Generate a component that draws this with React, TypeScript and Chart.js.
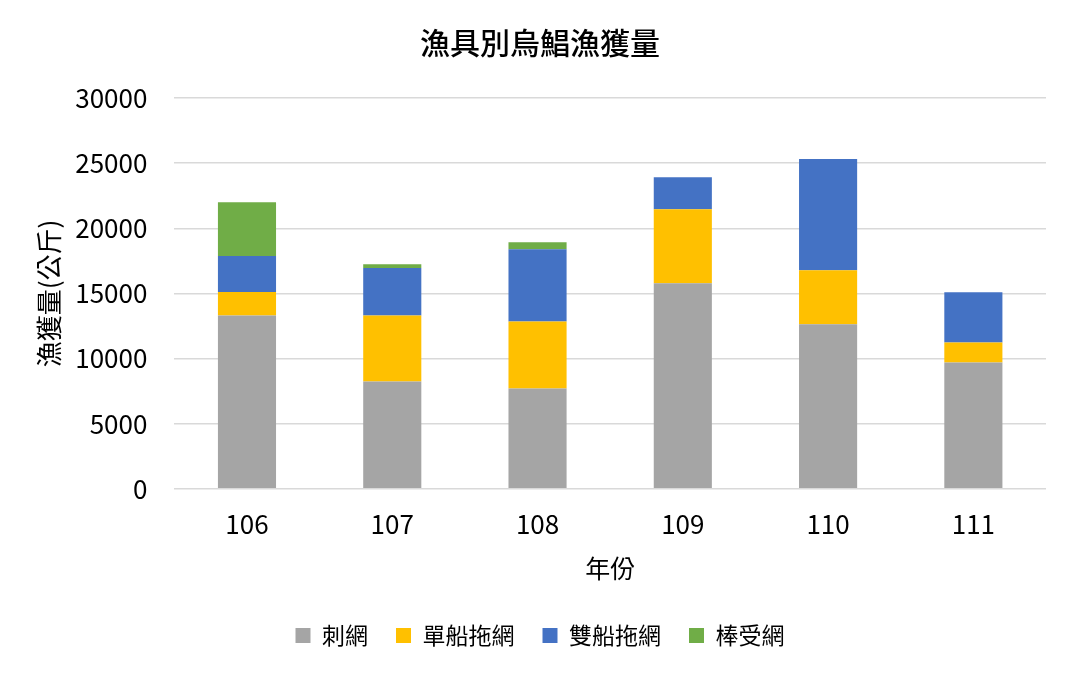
import React, { useEffect, useRef } from "react";
import { Chart, registerables } from "chart.js";

Chart.register(...registerables);

const years = ["106", "107", "108", "109", "110", "111"];
const gillNet = [13300, 8230, 7700, 15770, 12640, 9690];
const singleTrawl = [1800, 5070, 5150, 5690, 4130, 1540];
const pairTrawl = [2770, 3650, 5530, 2460, 8540, 3850];
const stickHeld = [4130, 280, 540, 0, 0, 0];
const yTicks = [0, 5000, 10000, 15000, 20000, 25000, 30000];

const FONT = "'Noto Sans CJK TC', 'Noto Sans', sans-serif";

export default function App() {
  const ref = useRef<HTMLCanvasElement>(null);
  useEffect(() => {
    if (!ref.current) return;
    const chart = new Chart(ref.current, {
      type: "bar",
      data: {
        labels: years,
        datasets: [
          { label: "刺網", data: gillNet, backgroundColor: "#A5A5A5" },
          { label: "單船拖網", data: singleTrawl, backgroundColor: "#FFC000" },
          { label: "雙船拖網", data: pairTrawl, backgroundColor: "#4472C4" },
          { label: "棒受網", data: stickHeld, backgroundColor: "#70AD47" },
        ],
      },
      options: {
        animation: false,
        responsive: false,
        maintainAspectRatio: false,
        datasets: { bar: { barPercentage: 1, categoryPercentage: 0.4 } },
        layout: { padding: { top: 25, right: 23, left: 34, bottom: 16 } },
        plugins: {
          title: {
            display: true,
            text: "漁具別烏鯧漁獲量",
            color: "#000",
            font: { family: FONT, size: 30, weight: "500" },
            padding: { top: 0, bottom: 37 },
          },
          legend: {
            position: "bottom",
            labels: {
              color: "#000",
              font: { family: FONT, size: 23 },
              boxWidth: 15,
              boxHeight: 15,
              padding: 28,
            },
          },
          tooltip: { enabled: false },
        },
        scales: {
          x: {
            stacked: true,
            grid: {
              display: false,
              drawTicks: true,
              tickLength: 18,
              tickColor: "rgba(0,0,0,0)",
            },
            border: { display: false },
            ticks: { color: "#000", font: { family: FONT, size: 26 }, padding: 2 },
            title: {
              display: true,
              text: "年份",
              color: "#000",
              font: { family: FONT, size: 25 },
              padding: { top: 11, bottom: 13 },
            },
          },
          y: {
            stacked: true,
            min: 0,
            max: 30000,
            afterBuildTicks: (axis: any) => {
              axis.ticks = yTicks.map((v) => ({ value: v }));
            },
            grid: {
              color: "#d9d9d9",
              lineWidth: 1.5,
              drawTicks: true,
              tickLength: 22,
              tickColor: "rgba(0,0,0,0)",
            },
            border: { display: false },
            ticks: {
              color: "#000",
              font: { family: FONT, size: 26 },
              padding: 5,
              callback: (v: any) => String(v),
            },
            title: {
              display: true,
              text: "漁獲量(公斤)",
              color: "#000",
              font: { family: FONT, size: 26 },
              padding: { top: 0, bottom: 5 },
            },
          },
        },
      },
    });
    return () => chart.destroy();
  }, []);
  return (
    <div style={{ position: "absolute", left: 0, top: 0, width: 1069, height: 673, background: "#fff" }}>
      <canvas ref={ref} width={1069} height={673} style={{ width: 1069, height: 673 }} />
    </div>
  );
}
